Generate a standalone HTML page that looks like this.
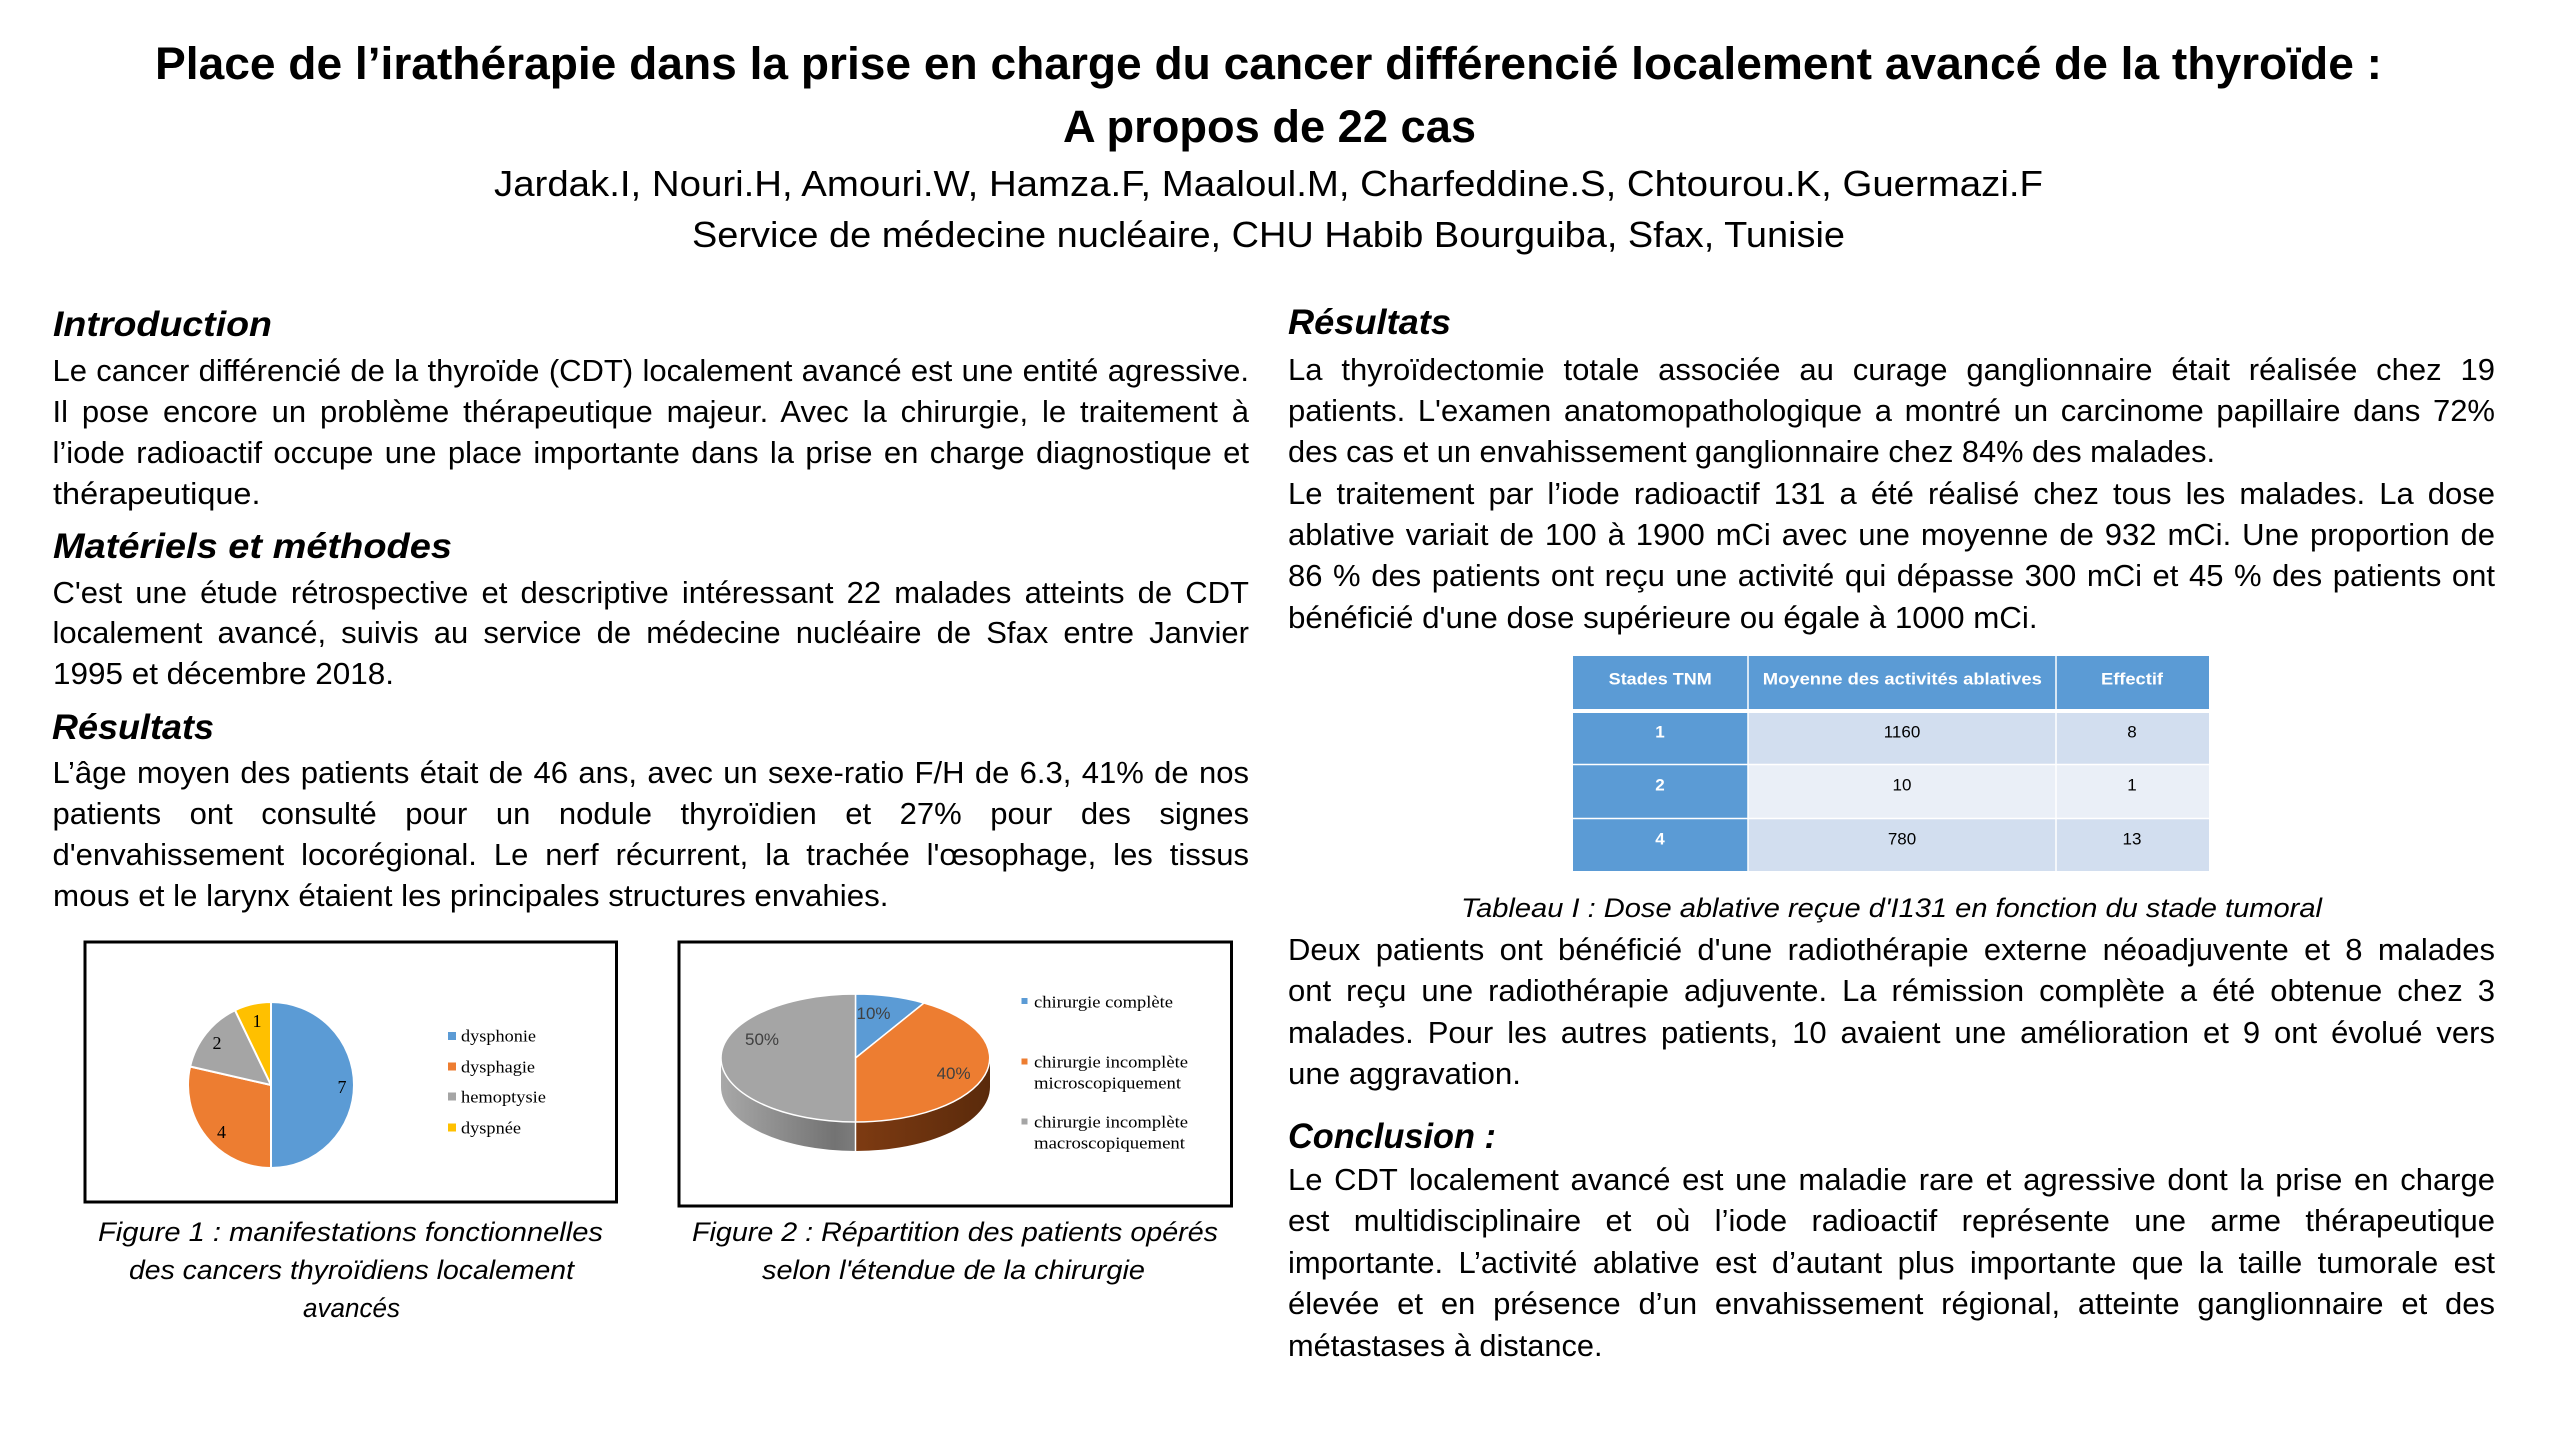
<!DOCTYPE html>
<html lang="fr">
<head>
<meta charset="utf-8">
<style>
  html,body{margin:0;padding:0;background:#fff;}
  body{width:2560px;height:1440px;position:relative;overflow:hidden;color:#000;
       font-family:"Liberation Sans",Arial,sans-serif;}
  svg.bg{position:absolute;left:0;top:0;}
  .ln{position:absolute;white-space:nowrap;line-height:1;}
  .ln span{white-space:nowrap;}
  .j{text-align:justify;text-align-last:justify;}
  .b{font-size:31px;}
  .h{font-size:35px;font-weight:bold;font-style:italic;}
  .t1{font-size:45px;font-weight:bold;}
  .t2{font-size:36px;}
  .cap{font-size:27px;font-style:italic;}
</style>
</head>
<body>
<svg class="bg" width="2560" height="1440" viewBox="0 0 2560 1440" xmlns="http://www.w3.org/2000/svg">
  <defs>
    <linearGradient id="gOr" x1="855" y1="0" x2="990" y2="0" gradientUnits="userSpaceOnUse">
      <stop offset="0" stop-color="#7e3b12"/>
      <stop offset="1" stop-color="#5a2a0b"/>
    </linearGradient>
    <linearGradient id="gGr" x1="721" y1="0" x2="855" y2="0" gradientUnits="userSpaceOnUse">
      <stop offset="0" stop-color="#a8a8a8"/>
      <stop offset="0.85" stop-color="#737373"/>
      <stop offset="1" stop-color="#7c7c7c"/>
    </linearGradient>
  </defs>

  <!-- Figure 1 box -->
  <rect x="85" y="942" width="531.5" height="260" fill="none" stroke="#000" stroke-width="3"/>
  <!-- Pie 1 -->
  <g stroke="#fff" stroke-width="2" stroke-linejoin="round">
    <path d="M271,1085 L271,1002 A83,83 0 0 1 271,1168 Z" fill="#5b9bd5"/>
    <path d="M271,1085 L271,1168 A83,83 0 0 1 190.1,1066.5 Z" fill="#ed7d31"/>
    <path d="M271,1085 L190.1,1066.5 A83,83 0 0 1 235,1010.2 Z" fill="#a5a5a5"/>
    <path d="M271,1085 L235,1010.2 A83,83 0 0 1 271,1002 Z" fill="#ffc000"/>
  </g>
  <g font-family="Liberation Serif, Times New Roman, serif" font-size="18" fill="#000" text-anchor="middle">
    <text x="342" y="1093">7</text>
    <text x="221.5" y="1138">4</text>
    <text x="217" y="1049">2</text>
    <text x="257" y="1027">1</text>
  </g>
  <rect x="448" y="1032" width="8" height="8" fill="#5b9bd5"/>
  <rect x="448" y="1062.5" width="8" height="8" fill="#ed7d31"/>
  <rect x="448" y="1092.5" width="8" height="8" fill="#a5a5a5"/>
  <rect x="448" y="1123.5" width="8" height="8" fill="#ffc000"/>
  <g font-family="Liberation Serif, Times New Roman, serif" font-size="17" fill="#000">
    <text x="461" y="1041.7" textLength="75" lengthAdjust="spacingAndGlyphs">dysphonie</text>
    <text x="461" y="1072.3" textLength="74" lengthAdjust="spacingAndGlyphs">dysphagie</text>
    <text x="461" y="1102.3" textLength="85" lengthAdjust="spacingAndGlyphs">hemoptysie</text>
    <text x="461" y="1133.3" textLength="60" lengthAdjust="spacingAndGlyphs">dyspnée</text>
  </g>

  <!-- Figure 2 box -->
  <rect x="679" y="942" width="552.5" height="264" fill="none" stroke="#000" stroke-width="3"/>
  <!-- 3D pie sides -->
  <path d="M990,1058 A134.5,64 0 0 1 855.5,1122 L855.5,1151 A134.5,64 0 0 0 990,1087 Z" fill="url(#gOr)"/>
  <path d="M855.5,1122 A134.5,64 0 0 1 721,1058 L721,1087 A134.5,64 0 0 0 855.5,1151 Z" fill="url(#gGr)"/>
  <line x1="855.5" y1="1122" x2="855.5" y2="1151" stroke="#fff" stroke-width="1.5"/>
  <!-- 3D pie top -->
  <g stroke="#fff" stroke-width="1.5" stroke-linejoin="round">
    <path d="M855.5,1058 L855.5,994 A134.5,64 0 0 1 924,1003 Z" fill="#5b9bd5"/>
    <path d="M855.5,1058 L924,1003 A134.5,64 0 0 1 855.5,1122 Z" fill="#ed7d31"/>
    <path d="M855.5,1058 L855.5,1122 A134.5,64 0 0 1 855.5,994 Z" fill="#a5a5a5"/>
  </g>
  <g font-family="Liberation Sans, Arial, sans-serif" font-size="17" fill="#404040" text-anchor="middle">
    <text x="873.5" y="1019">10%</text>
    <text x="953.6" y="1079">40%</text>
    <text x="762" y="1045">50%</text>
  </g>
  <rect x="1021.5" y="998" width="6" height="6" fill="#5b9bd5"/>
  <rect x="1021.5" y="1058.5" width="6" height="6" fill="#ed7d31"/>
  <rect x="1021.5" y="1118.5" width="6" height="6" fill="#a5a5a5"/>
  <g font-family="Liberation Serif, Times New Roman, serif" font-size="17" fill="#000">
    <text x="1034" y="1007.3" textLength="139" lengthAdjust="spacingAndGlyphs">chirurgie complète</text>
    <text x="1034" y="1067.7" textLength="154" lengthAdjust="spacingAndGlyphs">chirurgie incomplète</text>
    <text x="1034" y="1088.3" textLength="147" lengthAdjust="spacingAndGlyphs">microscopiquement</text>
    <text x="1034" y="1127.7" textLength="154" lengthAdjust="spacingAndGlyphs">chirurgie incomplète</text>
    <text x="1034" y="1148.3" textLength="151" lengthAdjust="spacingAndGlyphs">macroscopiquement</text>
  </g>

  <!-- Table -->
  <rect x="1573" y="656" width="636" height="53" fill="#5b9bd5"/>
  <rect x="1573" y="713" width="175" height="158" fill="#5b9bd5"/>
  <rect x="1748" y="713" width="461" height="51" fill="#d2deef"/>
  <rect x="1748" y="765" width="461" height="53" fill="#eaeff7"/>
  <rect x="1748" y="819" width="461" height="52" fill="#d2deef"/>
  <g stroke="#fff" stroke-width="1.5">
    <line x1="1748" y1="656" x2="1748" y2="871"/>
    <line x1="2056" y1="656" x2="2056" y2="871"/>
    <line x1="1573" y1="764.5" x2="2209" y2="764.5"/>
    <line x1="1573" y1="818.5" x2="2209" y2="818.5"/>
  </g>
  <g font-family="Liberation Sans, Arial, sans-serif" font-size="17" font-weight="bold" fill="#fff">
    <text x="1608.7" y="684.5" textLength="103" lengthAdjust="spacingAndGlyphs">Stades TNM</text>
    <text x="1762.8" y="684.5" textLength="279" lengthAdjust="spacingAndGlyphs">Moyenne des activités ablatives</text>
    <text x="2101" y="684.5" textLength="62" lengthAdjust="spacingAndGlyphs">Effectif</text>
  </g>
  <g font-family="Liberation Sans, Arial, sans-serif" font-size="17" font-weight="bold" fill="#fff" text-anchor="middle">
    <text x="1660" y="737.7">1</text>
    <text x="1660" y="790.5">2</text>
    <text x="1660" y="844.5">4</text>
  </g>
  <g font-family="Liberation Sans, Arial, sans-serif" font-size="17" fill="#000" text-anchor="middle">
    <text x="1902" y="737.7">1160</text>
    <text x="2132" y="737.7">8</text>
    <text x="1902" y="790.5">10</text>
    <text x="2132" y="790.5">1</text>
    <text x="1902" y="844.5">780</text>
    <text x="2132" y="844.5">13</text>
  </g>
</svg>

<!-- Title block -->
<div class="ln t1" style="left:155px;top:40.9px;width:2227px"><span>Place de l’irathérapie dans la prise en charge du cancer différencié localement avancé de la thyroïde :</span></div>
<div class="ln t1" style="left:1063px;top:103.6px;width:413px"><span>A propos de 22 cas</span></div>
<div class="ln t2" style="left:494px;top:165.5px;width:1549px"><span>Jardak.I, Nouri.H, Amouri.W, Hamza.F, Maaloul.M, Charfeddine.S, Chtourou.K, Guermazi.F</span></div>
<div class="ln t2" style="left:692px;top:216.5px;width:1153px"><span>Service de médecine nucléaire, CHU Habib Bourguiba, Sfax, Tunisie</span></div>

<!-- Left column -->
<div class="ln h" style="left:52.5px;top:307.1px;width:219px"><span>Introduction</span></div>
<div class="ln b j" style="left:52.5px;top:355.3px;width:1196.5px"><span>Le cancer différencié de la thyroïde (CDT) localement avancé est une entité agressive.</span></div>
<div class="ln b j" style="left:52.5px;top:396.3px;width:1196.5px"><span>Il pose encore un problème thérapeutique majeur. Avec la chirurgie, le traitement à</span></div>
<div class="ln b j" style="left:52.5px;top:437.3px;width:1196.5px"><span>l’iode radioactif occupe une place importante dans la prise en charge diagnostique et</span></div>
<div class="ln b" style="left:52.5px;top:478.3px;width:207.5px"><span>thérapeutique.</span></div>

<div class="ln h" style="left:52.5px;top:528.7px;width:399px"><span>Matériels et méthodes</span></div>
<div class="ln b j" style="left:52.5px;top:576.5px;width:1196.5px"><span>C'est une étude rétrospective et descriptive intéressant 22 malades atteints de CDT</span></div>
<div class="ln b j" style="left:52.5px;top:617.1px;width:1196.5px"><span>localement avancé, suivis au service de médecine nucléaire de Sfax entre Janvier</span></div>
<div class="ln b" style="left:52.5px;top:657.8px;width:341px"><span>1995 et décembre 2018.</span></div>

<div class="ln h" style="left:52px;top:709.7px;width:162px"><span>Résultats</span></div>
<div class="ln b j" style="left:52.5px;top:757.1px;width:1196.5px"><span>L’âge moyen des patients était de 46 ans, avec un sexe-ratio F/H de 6.3, 41% de nos</span></div>
<div class="ln b j" style="left:52.5px;top:798.3px;width:1196.5px"><span>patients ont consulté pour un nodule thyroïdien et 27% pour des signes</span></div>
<div class="ln b j" style="left:52.5px;top:839.3px;width:1196.5px"><span>d'envahissement locorégional. Le nerf récurrent, la trachée l'œsophage, les tissus</span></div>
<div class="ln b" style="left:52.5px;top:880.3px;width:835.5px"><span>mous et le larynx étaient les principales structures envahies.</span></div>

<!-- Figure captions -->
<div class="ln cap" style="left:98px;top:1218.8px;width:505px"><span>Figure 1 : manifestations fonctionnelles</span></div>
<div class="ln cap" style="left:129px;top:1257.1px;width:445px"><span>des cancers thyroïdiens localement</span></div>
<div class="ln cap" style="left:303px;top:1295.1px;width:97px"><span>avancés</span></div>
<div class="ln cap" style="left:692px;top:1218.8px;width:526px"><span>Figure 2 : Répartition des patients opérés</span></div>
<div class="ln cap" style="left:762px;top:1257.1px;width:383px"><span>selon l'étendue de la chirurgie</span></div>

<!-- Right column -->
<div class="ln h" style="left:1288px;top:305.4px;width:163px"><span>Résultats</span></div>
<div class="ln b j" style="left:1288px;top:353.8px;width:1207px"><span>La thyroïdectomie totale associée au curage ganglionnaire était réalisée chez 19</span></div>
<div class="ln b j" style="left:1288px;top:395.1px;width:1207px"><span>patients. L'examen anatomopathologique a montré un carcinome papillaire dans 72%</span></div>
<div class="ln b" style="left:1288px;top:436.4px;width:927px"><span>des cas et un envahissement ganglionnaire chez 84% des malades.</span></div>
<div class="ln b j" style="left:1288px;top:477.7px;width:1207px"><span>Le traitement par l’iode radioactif 131 a été réalisé chez tous les malades. La dose</span></div>
<div class="ln b j" style="left:1288px;top:519px;width:1207px"><span>ablative variait de 100 à 1900 mCi avec une moyenne de 932 mCi. Une proportion de</span></div>
<div class="ln b j" style="left:1288px;top:560.3px;width:1207px"><span>86 % des patients ont reçu une activité qui dépasse 300 mCi et 45 % des patients ont</span></div>
<div class="ln b" style="left:1288px;top:601.6px;width:749.6px"><span>bénéficié d'une dose supérieure ou égale à 1000 mCi.</span></div>

<div class="ln cap" style="left:1461px;top:895.4px;width:861px"><span>Tableau I : Dose ablative reçue d'I131 en fonction du stade tumoral</span></div>

<div class="ln b j" style="left:1288px;top:933.8px;width:1207px"><span>Deux patients ont bénéficié d'une radiothérapie externe néoadjuvente et 8 malades</span></div>
<div class="ln b j" style="left:1288px;top:975.3px;width:1207px"><span>ont reçu une radiothérapie adjuvente. La rémission complète a été obtenue chez 3</span></div>
<div class="ln b j" style="left:1288px;top:1016.8px;width:1207px"><span>malades. Pour les autres patients, 10 avaient une amélioration et 9 ont évolué vers</span></div>
<div class="ln b" style="left:1288px;top:1058.3px;width:233px"><span>une aggravation.</span></div>

<div class="ln h" style="left:1288px;top:1119.4px;width:208px"><span>Conclusion :</span></div>
<div class="ln b j" style="left:1288px;top:1163.8px;width:1207px"><span>Le CDT localement avancé est une maladie rare et agressive dont la prise en charge</span></div>
<div class="ln b j" style="left:1288px;top:1205.3px;width:1207px"><span>est multidisciplinaire et où l’iode radioactif représente une arme thérapeutique</span></div>
<div class="ln b j" style="left:1288px;top:1246.8px;width:1207px"><span>importante. L’activité ablative est d’autant plus importante que la taille tumorale est</span></div>
<div class="ln b j" style="left:1288px;top:1288.3px;width:1207px"><span>élevée et en présence d’un envahissement régional, atteinte ganglionnaire et des</span></div>
<div class="ln b" style="left:1288px;top:1329.8px;width:314.5px"><span>métastases à distance.</span></div>

<script>
(function(){
  function fit(){
    var els=document.querySelectorAll('.ln');
    for(var i=0;i<els.length;i++){
      var d=els[i], s=d.firstElementChild; if(!s) continue;
      var W=parseFloat(d.style.width);
      d.style.textAlign='left'; d.style.textAlignLast='auto';
      s.style.display='inline-block'; s.style.wordSpacing='0px'; s.style.transform='none';
      var nat=s.getBoundingClientRect().width;
      var n=(s.textContent.match(/ /g)||[]).length;
      if(d.classList.contains('j') && nat<W && n>0){
        s.style.wordSpacing=((W-nat)/n)+'px';
      } else if(nat>0){
        s.style.transformOrigin='0 0';
        s.style.transform='scaleX('+(W/nat)+')';
      }
    }
  }
  fit();
  if(document.fonts && document.fonts.ready){document.fonts.ready.then(fit);}
  window.addEventListener('load',fit);
})();
</script>
</body>
</html>
